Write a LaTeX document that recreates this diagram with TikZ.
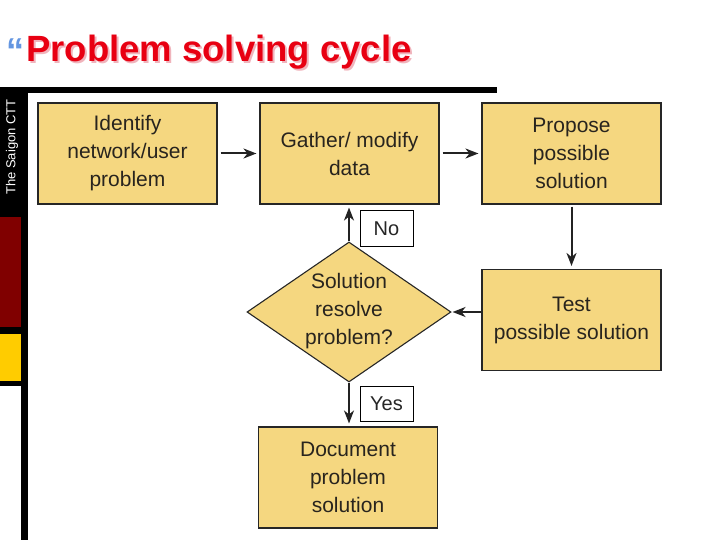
\documentclass[tikz,border=0pt]{standalone}
\usepackage{fontspec}
\setmainfont{Liberation Sans}
\usetikzlibrary{shapes.geometric,arrows.meta}
\definecolor{boxfill}{RGB}{245,215,128}
\definecolor{txt}{RGB}{40,36,30}
\definecolor{arr}{RGB}{35,35,35}
\definecolor{titlered}{RGB}{232,0,18}
\definecolor{shadowpink}{RGB}{240,180,188}
\definecolor{quoteblue}{RGB}{100,150,225}
\definecolor{darkred}{RGB}{128,0,0}
\definecolor{bandyellow}{RGB}{255,204,0}
\tikzset{
  stepbox/.style={draw=black!85, line width=1.1pt, fill=boxfill, minimum width=179pt, minimum height=101pt, inner sep=0pt, align=center, text=txt, font=\fontsize{21}{28}\selectfont},
  decision/.style={diamond, draw=black!85, line width=1.1pt, fill=boxfill, minimum width=204pt, minimum height=140pt, inner sep=0pt},
  tagbox/.style={draw=black, line width=1pt, fill=white, minimum width=53pt, minimum height=35pt, inner sep=0pt, text=black!85, font=\fontsize{20}{24}\selectfont},
  flow/.style={draw=arr, line width=2pt, -{Stealth[length=13pt,width=10pt,inset=4pt]}},
}
\begin{document}
\begin{tikzpicture}[x=1pt,y=-1pt]
\useasboundingbox (0,0) rectangle (720,540);
% left band and top rule
\fill[black] (0,87) rectangle (497,93);
\fill[black] (0,87) rectangle (28,386);
\fill[black] (21,386) rectangle (28,540);
\fill[darkred] (0,217) rectangle (21,327);
\fill[bandyellow] (0,334) rectangle (21,381);
\node[rotate=90, text=white, font=\fontsize{13}{14}\selectfont, inner sep=0pt] (band) at (12,147) {The Saigon CTT};
% title
\node[anchor=base west, inner sep=0pt, text=quoteblue, font=\fontsize{36}{36}\selectfont\bfseries] (quote) at (6,64) {“};
\node[anchor=base west, inner sep=0pt, text=shadowpink, font=\fontsize{36.5}{40}\selectfont\bfseries] (titleshadow) at (28,64) {Problem solving cycle};
\node[anchor=base west, inner sep=0pt, text=titlered, font=\fontsize{36.5}{40}\selectfont\bfseries] (title) at (26,62) {Problem solving cycle};
% boxes
\node[stepbox] (identify) at (127.5,153.5) {Identify\\network/user\\problem};
\node[stepbox] (gather) at (349.5,153.5) {Gather/ modify\\data};
\node[stepbox] (propose) at (571.5,153.5) {Propose\\possible\\solution};
\node[stepbox] (test) at (571.5,320) {Test\\possible solution};
\node[decision] (dia) at (349,312) {};
\node[align=center, text=txt, font=\fontsize{21}{28}\selectfont, inner sep=0pt] (diatext) at (349,311) {Solution\\resolve\\problem?};
\node[stepbox] (document) at (348,477.5) {Document\\problem\\solution};
% labels
\node[tagbox] (no) at (386.5,228.5) {No};
\node[tagbox] (yes) at (386.5,403.5) {Yes};
% connectors
\draw[flow] ([xshift=3pt]identify.east) -- ([xshift=-3pt]gather.west);
\draw[flow] ([xshift=3pt]gather.east) -- ([xshift=-3pt]propose.west);
\draw[flow] ([yshift=-2pt]propose.south) -- ([yshift=3pt]test.north);
\draw[flow] (test.west |- dia.east) -- ([xshift=1pt]dia.east);
\draw[flow] (dia.north) -- ([yshift=-3pt]gather.south -| dia.north);
\draw[flow] (dia.south) -- ([yshift=3pt]document.north -| dia.south);
\end{tikzpicture}
\end{document}
